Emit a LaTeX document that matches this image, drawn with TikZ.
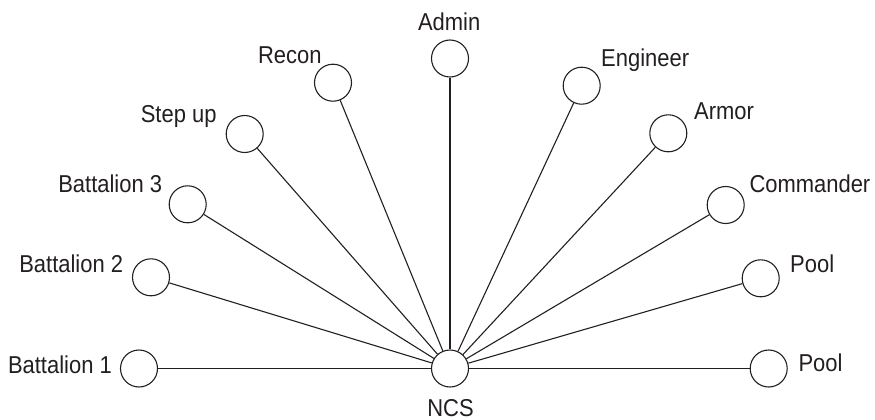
\documentclass[tikz,border=0pt]{standalone}
\usepackage{fontspec}
\setmainfont{Liberation Sans}[FakeStretch=0.9]
\usetikzlibrary{positioning}
\definecolor{ink}{HTML}{231F20}

\begin{document}
\begin{tikzpicture}[x=1pt,y=-1pt,
        station/.style={circle,draw=ink,line width=1.1pt,minimum size=37pt,inner sep=0pt},
        link/.style={draw=ink,line width=1.1pt},
        tag/.style={inner sep=0pt,text=ink,font=\fontsize{24.4}{26}\selectfont}]
    \useasboundingbox (0,0) rectangle (875,420);
    % hub
    \node[station] (ncs) at (450,368.5) {};
    \node[tag,anchor=base,text depth=0pt] at (450.5,416) {NCS};
    % outer stations
    \foreach \n/\x/\y in {bat1/139/368.5, bat2/151/277.3, bat3/187.7/204.3,
            stepup/244.7/134, recon/333/82.7, admin/450/58.5,
            engineer/581.7/85.7, armor/668.3/133.3, commander/725.7/205,
            poolb/760.7/278.3, poola/768.7/368.5} {
        \node[station] (\n) at (\x,\y) {};
        \draw[link] (ncs) -- (\n);
    }
    % names
    \node[tag,anchor=base east] at (112,373) {Battalion 1};
    \node[tag,anchor=base east] at (123.3,272.7) {Battalion 2};
    \node[tag,anchor=base east] at (162.3,192.7) {Battalion 3};
    \node[tag,anchor=base east] at (216.7,122.7) {Step up};
    \node[tag,anchor=base east] at (321.7,63.3) {Recon};
    \node[tag,anchor=base] at (449.2,30.7) {Admin};
    \node[tag,anchor=base west] at (601,66.7) {Engineer};
    \node[tag,anchor=base west] at (694,119.3) {Armor};
    \node[tag,anchor=base west] at (749.3,192.3) {Commander};
    \node[tag,anchor=base west] at (790,272.7) {Pool};
    \node[tag,anchor=base west] at (798.3,371.7) {Pool};
\end{tikzpicture}
\end{document}
